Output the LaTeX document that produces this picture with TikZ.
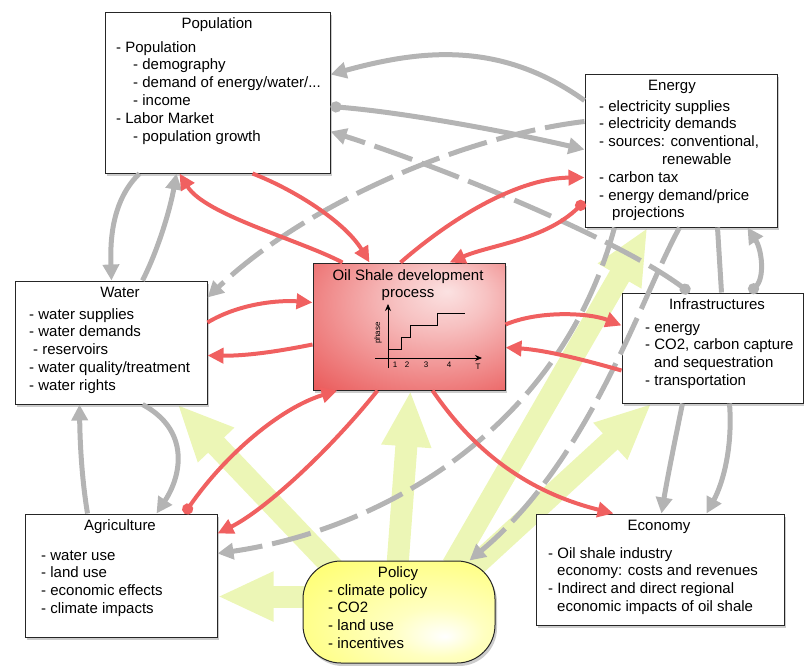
\documentclass[tikz,border=0pt]{standalone}
\usepackage{fontspec}
\setmainfont{Liberation Sans}
\usetikzlibrary{arrows.meta,shadows,calc}
\definecolor{cred}{RGB}{240,96,96}
\definecolor{cgray}{RGB}{180,180,180}
\definecolor{cyel}{RGB}{236,246,182}
\definecolor{cpol}{RGB}{255,255,100}
\definecolor{cbox}{RGB}{234,92,92}
\pgfdeclarelayer{bg}
\pgfsetlayers{bg,main}
\pgfdeclareradialshading{cshade}{\pgfpoint{10bp}{14bp}}{color(0bp)=(white!82!cbox); color(12bp)=(white!62!cbox); color(42bp)=(cbox); color(75bp)=(cbox!85!black)}
\pgfdeclareradialshading{pshade}{\pgfpoint{12bp}{-12bp}}{color(0bp)=(white); color(12bp)=(white!60!cpol); color(45bp)=(cpol); color(75bp)=(cpol!92!black)}
\begin{document}
\begin{tikzpicture}[x=1pt,y=-1pt, font=\fontsize{15}{17.8}\selectfont,
 box/.style={draw=black!85, line width=1pt, fill=white, inner sep=0pt,
   drop shadow={shadow xshift=2pt,shadow yshift=-3pt,opacity=.4}},
 sbox/.style={draw=black!85, line width=1pt, inner sep=0pt,
   drop shadow={shadow xshift=2pt,shadow yshift=-3pt,opacity=.4}},
 txt/.style={anchor=north west, align=left, inner sep=0pt},
 ttl/.style={anchor=base, inner sep=0pt},
 small/.style={inner sep=0pt, font=\fontsize{8}{9}\selectfont},
 redc/.style={draw=cred, line width=4pt, -{Triangle[length=16pt,width=15pt]}},
 redd/.style={draw=cred, line width=4pt, {Circle[length=11pt]}-{Triangle[length=16pt,width=15pt]}},
 grayc/.style={draw=cgray, line width=5pt, -{Triangle[length=16pt,width=16pt]}},
 grayd/.style={draw=cgray, line width=5pt, {Circle[length=11pt]}-{Triangle[length=16pt,width=16pt]}},
 gapped/.style={dash pattern=on 40pt off 10pt},
 yelc/.style={draw=cyel, line width=22pt, -{Triangle[length=56pt,width=46pt]}},
]
\useasboundingbox (0,0) rectangle (804,665);

% ---------- boxes ----------
\node[box, minimum width=225pt, minimum height=161pt] (pop) at (217.5,92.5) {};
\node[box, minimum width=192pt, minimum height=153pt] (energy) at (681,150.5) {};
\node[box, minimum width=192pt, minimum height=123pt] (water) at (111,342.5) {};
\node[sbox, shading=cshade, minimum width=192pt, minimum height=127pt] (central) at (409,326.5) {};
\node[box, minimum width=181pt, minimum height=110pt] (infra) at (712.5,348) {};
\node[box, minimum width=192pt, minimum height=123pt] (agri) at (121,575.5) {};
\node[sbox, shading=pshade, rounded corners=38pt, minimum width=192pt, minimum height=102pt] (policy) at (399,612) {};
\node[box, minimum width=248pt, minimum height=111pt] (econ) at (660,569.5) {};

% ---------- texts ----------
\node[ttl] (popT) at (217,28) {Population};
\node[txt] (popL) at (116,39.5) {\strut- Population\\\hspace*{17pt}- demography\\\hspace*{17pt}- demand of energy/water/...\\\hspace*{17pt}- income\\- Labor Market\\\hspace*{17pt}- population growth};

\node[ttl] (enT) at (672,90) {Energy};
\node[txt] (enL) at (599,98.5) {\strut- electricity supplies\\- electricity demands\\- sources: conventional,\\\hspace*{63pt}renewable\\- carbon tax\\- energy demand/price\\\hspace*{13pt}projections};

\node[ttl] (waT) at (120,297) {Water};
\node[txt] (waL) at (29,306.5) {\strut- water supplies\\- water demands\\\hspace*{4pt}- reservoirs\\- water quality/treatment\\- water rights};

\node[ttl] (inT) at (717,309) {Infrastructures};
\node[txt] (inL) at (645,319.5) {\strut- energy\\- CO2, carbon capture\\\hspace*{9pt}and sequestration\\- transportation};

\node[ttl] (agT) at (120,530) {Agriculture};
\node[txt] (agL) at (41,547.5) {\strut- water use\\- land use\\- economic effects\\- climate impacts};

\node[ttl] (ecT) at (659,530) {Economy};
\node[txt] (ecL) at (548,545.5) {\strut- Oil shale industry\\\hspace*{9pt}economy: costs and revenues\\- Indirect and direct regional\\\hspace*{9pt}economic impacts of oil shale};

\node[ttl] (poT) at (398,577) {Policy};
\node[txt] (poL) at (328,582.5) {\strut- climate policy\\- CO2\\- land use\\- incentives};

\node[anchor=north, align=center, inner sep=0pt] (ceT) at (408,267.5) {\strut Oil Shale development\\process};

% ---------- chart ----------
\draw[line width=0.8pt,-{Stealth[length=7pt,width=6pt]}] (388,368) -- (388,304);
\draw[line width=0.8pt,-{Stealth[length=7pt,width=6pt]}] (375,358) -- (482,358);
\draw[line width=0.8pt] (388,349) -- (401,349) -- (401,337) -- (410,337) -- (410,325) -- (437,325) -- (437,313) -- (465,313);
\node[small, rotate=90] (ph) at (378,333) {phase};
\node[small] (k1) at (395,365) {1};
\node[small] (k2) at (407,365) {2};
\node[small] (k3) at (426,365) {3};
\node[small] (k4) at (449,365) {4};
\node[small] (kT) at (478,367) {T};

% ---------- policy arrows (behind) ----------
\begin{pgfonlayer}{bg}
\draw[yelc] ([xshift=35pt,yshift=-12pt]policy.north west) -- ([xshift=-30pt]water.south east);
\draw[yelc] ([xshift=2pt,yshift=-36pt]policy.north west) -- ([yshift=-83pt]agri.north east);
\draw[yelc] ([xshift=95pt,yshift=-5pt]policy.north west) -- ([xshift=98pt]central.south west);
\draw[yelc] ([xshift=150pt,yshift=-5pt]policy.north west) -- ([xshift=63pt]energy.south west);
\draw[yelc] ([xshift=165pt,yshift=-12pt]policy.north west) -- ([xshift=30pt]infra.south west);
\end{pgfonlayer}

% ---------- gray connectors ----------
\draw[grayc] ([yshift=-27pt]energy.north west) .. controls (500,40) and (420,50) .. ([yshift=-63pt]pop.north east);
\draw[grayd] ([yshift=-95pt]pop.north east) .. controls (400,112) and (500,130) .. ([yshift=-76pt]energy.north west);
\draw[grayd, gapped] ([xshift=68pt]infra.north west) .. controls (620,240) and (450,170) .. ([yshift=-120pt]pop.north east);
\draw[grayc, gapped] ([yshift=-48pt]energy.north west) .. controls (470,135) and (310,200) .. ([yshift=-17pt]water.north east);
\draw[grayc] ([xshift=35pt]pop.south west) .. controls (112,200) and (110,240) .. ([xshift=97pt]water.north west);
\draw[grayc] ([xshift=128pt]water.north west) .. controls (158,250) and (170,210) .. ([xshift=72pt]pop.south west);
\draw[grayc] ([xshift=63pt]agri.north west) .. controls (82,480) and (80,445) .. ([xshift=65pt]water.south west);
\draw[grayc] ([xshift=128pt]water.south west) .. controls (190,430) and (182,475) .. ([xshift=132pt]agri.north west);
\draw[cgray, line width=5pt] ([xshift=133pt]energy.south west) -- ([xshift=100pt]infra.north west);
\draw[grayd] ([xshift=128pt]infra.north west) .. controls (765,278) and (762,250) .. ([xshift=163pt]energy.south west);
\draw[grayc, gapped] ([xshift=95pt]energy.south west) .. controls (640,300) and (590,460) .. ([xshift=167pt]policy.north west);
\draw[grayc, gapped] ([xshift=30pt]energy.south west) .. controls (560,430) and (380,530) .. ([yshift=-40pt]agri.north east);
\draw[grayc] ([xshift=61pt]infra.south west) .. controls (675,440) and (667,480) .. ([xshift=126pt]econ.north west);
\draw[grayc] ([xshift=108pt]infra.south west) .. controls (733,450) and (722,485) .. ([xshift=171pt]econ.north west);

% ---------- red connectors ----------
\draw[redc] ([xshift=30pt]central.north west) .. controls (300,240) and (205,215) .. ([xshift=75pt]pop.south west);
\draw[redc] ([xshift=148pt]pop.south west) .. controls (295,190) and (345,222) .. ([xshift=57pt]central.north west);
\draw[redc] ([xshift=88pt]central.north west) .. controls (455,215) and (520,178) .. ([yshift=-104pt]energy.north west);
\draw[redd] ([yshift=-128pt]energy.north west) .. controls (545,240) and (490,245) .. ([xshift=137pt]central.north west);
\draw[redc] ([yshift=-42pt]water.north east) .. controls (240,303) and (280,300) .. ([yshift=-40pt]central.north west);
\draw[redc] ([yshift=-82pt]central.north west) .. controls (285,350) and (250,356) .. ([yshift=-75pt]water.north east);
\draw[redc] ([yshift=-62pt]central.north east) .. controls (540,310) and (590,313) .. ([yshift=-33pt]infra.north west);
\draw[redc] ([yshift=-78pt]infra.north west) .. controls (585,360) and (545,350) .. ([yshift=-85pt]central.north east);
\draw[redd] ([xshift=160pt]agri.north west) .. controls (225,455) and (280,408) .. ([xshift=25pt]central.south west);
\draw[redc] ([xshift=65pt]central.south west) .. controls (330,450) and (265,510) .. ([yshift=-20pt]agri.north east);
\draw[redc] ([xshift=120pt]central.south west) .. controls (470,445) and (520,490) .. ([xshift=78pt]econ.north west);
\end{tikzpicture}
\end{document}
